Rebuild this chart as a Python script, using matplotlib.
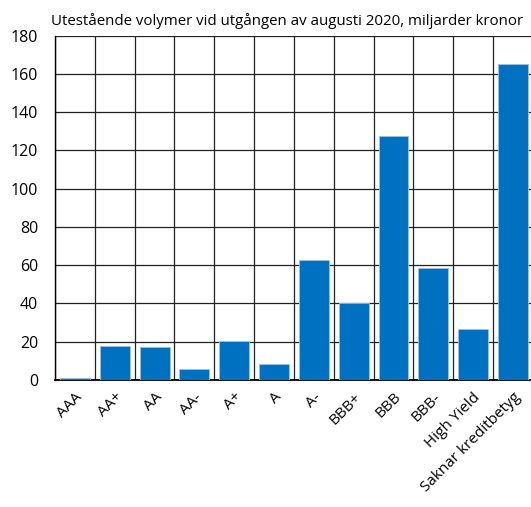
import matplotlib.pyplot as plt
import numpy as np

categories = ["AAA", "AA+", "AA", "AA-", "A+", "A", "A-", "BBB+", "BBB", "BBB-",
              "High Yield", "Saknar kreditbetyg"]
volumes = [0.8, 17.7, 17.2, 5.9, 20.3, 8.5, 63.0, 40.0, 127.8, 58.6, 26.6, 165.0]

plt.rcParams['font.family'] = ['Open Sans', 'DejaVu Sans']

fig = plt.figure(figsize=(5.31, 5.07), dpi=100)
ax = fig.add_axes([0.1036, 0.2505, 0.9, 0.679])

x = np.arange(len(categories))
ax.bar(x, volumes, width=0.75, color='#0070C0', edgecolor='#9CC3E6', linewidth=0.6, zorder=3)

ax.set_xlim(-0.5, len(categories) - 0.5)
ax.set_ylim(0, 180)
ax.set_yticks(np.arange(0, 181, 20))
ax.set_xticks(x)
ax.set_xticks(np.arange(-0.5, len(categories), 1), minor=True)
ax.set_xticklabels(categories, rotation=45, ha='right', rotation_mode='anchor', fontsize=11)
ax.tick_params(axis='both', which='both', length=0)
ax.tick_params(axis='y', labelsize=11.5, pad=12)
ax.tick_params(axis='x', pad=7)

ax.grid(axis='y', which='major', color='#222222', linewidth=0.9, zorder=0)
ax.grid(axis='x', which='minor', color='#222222', linewidth=0.9, zorder=0)
ax.grid(axis='x', which='major', visible=False)

for side in ['top', 'right']:
    ax.spines[side].set_visible(False)
ax.spines['left'].set_linewidth(1.0)
ax.spines['bottom'].set_linewidth(1.3)

fig.text(0.54, 0.958, "Utestående volymer vid utgången av augusti 2020, miljarder kronor",
         ha='center', va='center', fontsize=10.8)

fig.savefig("out.png", dpi=100)
